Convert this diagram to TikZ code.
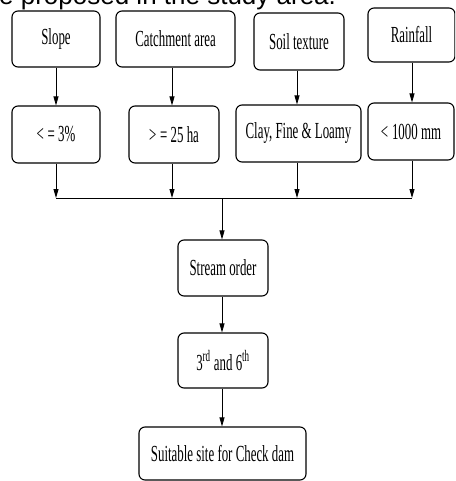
\documentclass[tikz,border=0pt]{standalone}
\usepackage{fontspec}
\setmainfont{Liberation Serif}[FakeStretch=0.56]
\newfontfamily\headfont{Liberation Sans}
\usepackage{tikz}
\usetikzlibrary{arrows.meta, positioning}
\tikzset{
  crit/.style = {
    rectangle, rounded corners=6pt, draw=black, line width=1.1pt,
    text centered, inner sep=2pt,
    font=\fontsize{23}{25}\selectfont
  },
  arr/.style = {-{Triangle[length=9pt, width=5pt]}, line width=0.8pt},
  bus/.style = {line width=0.8pt}
}

\begin{document}
\begin{tikzpicture}[x=1pt, y=-1pt]
\useasboundingbox (0,0) rectangle (455,481);
\clip (0,0) rectangle (455,481);

%% ── Caption line, cut at the top ─────────────────────
\node[anchor=base west, inner sep=0pt,
      font=\headfont\fontsize{26}{28}\selectfont]
  (head) at (-1,5) {e proposed in the study area.};

%% ── Row 1: Parameters ────────────────────────────────
\node[crit, minimum width=88pt, minimum height=56pt]
  (slope) at (56,39) {Slope};
\node[crit, minimum width=119pt, minimum height=56pt]
  (catch) at (175.5,39) {Catchment area};
\node[crit, minimum width=90pt, minimum height=57pt]
  (soil) at (299,41.5) {Soil texture};
\node[crit, minimum width=87pt, minimum height=54pt]
  (rain) at (411.5,35) {Rainfall};

%% ── Row 2: Criteria ──────────────────────────────────
\node[crit, minimum width=88pt, minimum height=57pt]
  (slopecr) at (56,134.5) {<\,= 3\%};
\node[crit, minimum width=90pt, minimum height=57pt]
  (catchcr) at (174,134.5) {>\,= 25 ha};
\node[crit, minimum width=125pt, minimum height=57pt]
  (soilcr) at (298.5,133.5) {Clay, Fine \& Loamy};
\node[crit, minimum width=86pt, minimum height=57pt]
  (raincr) at (411,131.5) {<\,1000 mm};

%% ── Merge and lower chain ────────────────────────────
\coordinate (join) at (222,198);
\coordinate (catchx) at (172,0);
\coordinate (soilx) at (297,0);
\coordinate (rainx) at (412,0);

\node[crit, minimum width=90pt, minimum height=56pt]
  (order) at (223,268) {Stream order};
\node[crit, minimum width=90pt, minimum height=55pt]
  (third) at (223,360.5) {3\textsuperscript{rd} and 6\textsuperscript{th}};
\node[crit, minimum width=167pt, minimum height=53pt]
  (site) at (222.5,453.5) {Suitable site for Check dam};

%% ── Arrows ───────────────────────────────────────────
\draw[arr] (slope.south) -- (slopecr.north);
\draw[arr] (catch.south -| catchx) -- (catchcr.north -| catchx);
\draw[arr] (soil.south -| soilx) -- (soilcr.north -| soilx);
\draw[arr] (rain.south -| rainx) -- (raincr.north -| rainx);

\draw[arr] (slopecr.south) -- (slopecr.south |- join);
\draw[arr] (catchcr.south -| catchx) -- (join -| catchx);
\draw[arr] (soilcr.south -| soilx) -- (join -| soilx);
\draw[arr] (raincr.south -| rainx) -- (join -| rainx);
\draw[bus] (slopecr.south |- join) -- (join -| rainx);

\draw[arr] (join) -- (join |- order.north);
\draw[arr] (order.south -| join) -- (third.north -| join);
\draw[arr] (third.south -| join) -- (site.north -| join);

\end{tikzpicture}
\end{document}
